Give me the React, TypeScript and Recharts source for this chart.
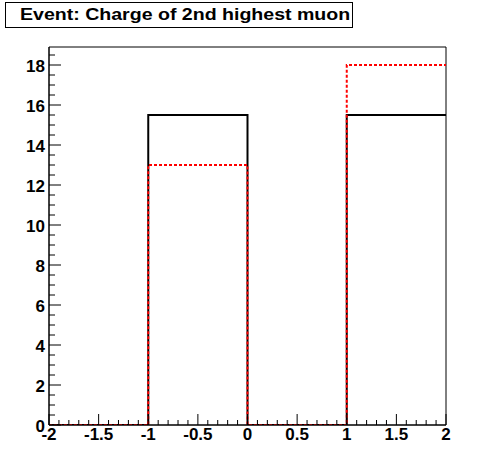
import React from "react";
import { ComposedChart, Line, XAxis, YAxis, ReferenceArea } from "recharts";

// histogram bins (edges) and contents
const binEdges = [-2, -1, 0, 1, 2];
const blackCounts = [0, 15.5, 0, 15.5];
const redCounts = [0, 13, 0, 18];

const xMajorTicks = [-2, -1.5, -1, -0.5, 0, 0.5, 1, 1.5, 2];
const yMajorTicks = [0, 2, 4, 6, 8, 10, 12, 14, 16, 18];

const title = "Event: Charge of 2nd highest muon";

const Y_MAX = 18.9;
const FONT = "'Liberation Sans', Arial, Helvetica, sans-serif";

// step data: last edge repeats last bin so the top closes at x=2
const data = binEdges.map((e, i) => ({
  x: e,
  black: blackCounts[Math.min(i, blackCounts.length - 1)],
  red: redCounts[Math.min(i, redCounts.length - 1)],
}));

// minor ticks: x every 0.1, y every 0.5
const xTicks: number[] = [];
for (let i = -20; i <= 20; i++) xTicks.push(i / 10);
const yTicks: number[] = [];
for (let i = 0; i <= 37; i++) yTicks.push(i / 2);

const isMajor = (v: number, list: number[]) => list.some((m) => Math.abs(m - v) < 1e-6);

const XTick = (props: any) => {
  const { x, y, payload } = props;
  const major = isMajor(payload.value, xMajorTicks);
  return (
    <g>
      <line x1={x} x2={x} y1={y} y2={y - (major ? 11 : 5)} stroke="#000" strokeWidth={1} />
      {major && (
        <text x={x} y={y + 15} textAnchor="middle" fontFamily={FONT} fontWeight="bold" fontSize={17} fill="#000">
          {String(payload.value)}
        </text>
      )}
    </g>
  );
};

const YTick = (props: any) => {
  const { x, y, payload } = props;
  const major = isMajor(payload.value, yMajorTicks);
  return (
    <g>
      <line x1={x} x2={x + (major ? 12 : 6)} y1={y} y2={y} stroke="#000" strokeWidth={1} />
      {major && (
        <text x={x - 4} y={y + 7} textAnchor="end" fontFamily={FONT} fontWeight="bold" fontSize={17} fill="#000">
          {String(payload.value)}
        </text>
      )}
    </g>
  );
};

export default function App() {
  return (
    <div style={{ position: "absolute", left: 0, top: 0, width: 496, height: 472, background: "#fff" }}>
      <ComposedChart width={496} height={472} data={data} margin={{ top: 47, right: 50, bottom: 0, left: 0 }}>
        <XAxis
          dataKey="x"
          type="number"
          domain={[-2, 2]}
          ticks={xTicks}
          interval={0}
          tickSize={0}
          tickMargin={0}
          tickLine={false}
          axisLine={{ stroke: "#000" }}
          height={47}
          tick={<XTick />}
        />
        <YAxis
          type="number"
          domain={[0, Y_MAX]}
          ticks={yTicks}
          interval={0}
          tickSize={0}
          tickMargin={0}
          tickLine={false}
          axisLine={{ stroke: "#000" }}
          width={49}
          tick={<YTick />}
          allowDataOverflow
        />
        <ReferenceArea x1={-2} x2={2} y1={0} y2={Y_MAX} fill="none" stroke="#000" strokeWidth={1} />
        <Line type="stepAfter" dataKey="black" stroke="#000" strokeWidth={2} dot={false} isAnimationActive={false} />
        <Line
          type="stepAfter"
          dataKey="red"
          stroke="#ff0000"
          strokeWidth={2}
          strokeDasharray="3 2"
          dot={false}
          isAnimationActive={false}
        />
      </ComposedChart>
      <div
        style={{
          position: "absolute",
          left: 5,
          top: 2,
          width: 348,
          height: 26,
          boxSizing: "border-box",
          border: "1px solid #000",
          background: "#fff",
          overflow: "hidden",
        }}
      >
        <span
          style={{
            position: "absolute",
            left: 14,
            top: 0,
            fontFamily: FONT,
            fontWeight: "bold",
            fontSize: 17,
            lineHeight: "24px",
            whiteSpace: "nowrap",
            color: "#000",
            transform: "scaleX(1.15)",
            transformOrigin: "left center",
          }}
        >
          {title}
        </span>
      </div>
    </div>
  );
}
